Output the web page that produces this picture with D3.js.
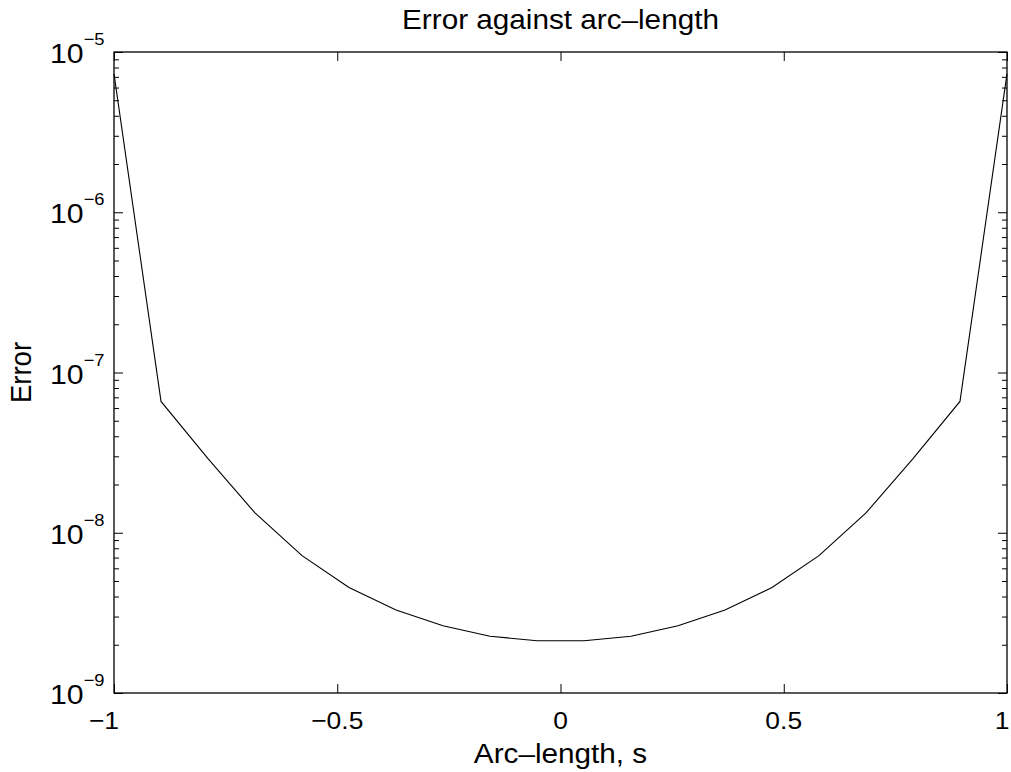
<!DOCTYPE html>
<html>
<head>
<meta charset="utf-8">
<script src="https://cdn.jsdelivr.net/npm/d3@7"></script>
<style>
  body { margin: 0; background: #fff; }
  svg { display: block; }
  text { font-family: "Liberation Sans", Arial, Helvetica, sans-serif; fill: #000; }
</style>
</head>
<body>
<div id="chart"></div>
<script>
// Data ----------------------------------------------------------------------->

// Arc-length samples (20 equally spaced points on [-1, 1])
const arc_length = [
  -1.0000, -0.8947, -0.7895, -0.6842, -0.5789, -0.4737, -0.3684, -0.2632,
  -0.1579, -0.0526, 0.0526, 0.1579, 0.2632, 0.3684, 0.4737, 0.5789,
  0.6842, 0.7895, 0.8947, 1.0000
];
// Error at each sample
const error_vals = [
  7.3e-6, 6.6e-8, 2.9e-8, 1.33e-8, 7.2e-9, 4.55e-9, 3.3e-9, 2.63e-9,
  2.26e-9, 2.12e-9, 2.12e-9, 2.26e-9, 2.63e-9, 3.3e-9, 4.55e-9, 7.2e-9,
  1.33e-8, 2.9e-8, 6.6e-8, 7.3e-6
];

const x_ticks = [-1, -0.5, 0, 0.5, 1];
const x_tick_labels = ['\u22121', '\u22120.5', '0', '0.5', '1'];
const y_ticks = [1e-9, 1e-8, 1e-7, 1e-6, 1e-5];
const y_exponents = ['\u22129', '\u22128', '\u22127', '\u22126', '\u22125'];

const title_text = 'Error against arc\u2013length';
const x_label = 'Arc\u2013length, s';
const y_label = 'Error';

// Setup ---------------------------------------------------------------------->

const width = 1011, height = 772;
const plot = {left: 114, right: 1007, top: 52, bottom: 693};
const stretch = 1.08;        // glyphs in the reference are a little wide
const tick_font = 24.5, label_font = 27.5;

const svg = d3.select('#chart')
  .append('svg')
    .attr('width', width)
    .attr('height', height);

const x = d3.scaleLinear().domain([-1, 1]).range([plot.left, plot.right]);
const y = d3.scaleLog().domain([1e-9, 1e-5]).range([plot.bottom, plot.top]);

// minor log ticks (2..9 in each decade)
const y_minor = y.ticks().filter(v => !y_ticks.some(t => Math.abs(v / t - 1) < 1e-6));

// Axes (ticks point inward, on all four sides) ------------------------------->

function tick_axis(axis, transform){
  const g = svg.append('g')
    .attr('transform', transform)
    .call(axis);
  g.select('.domain').remove();
  g.selectAll('line').attr('stroke', '#000').attr('stroke-width', 1);
  return g;
}

const plot_w = plot.right - plot.left, plot_h = plot.bottom - plot.top;

tick_axis(d3.axisBottom(x).tickValues(x_ticks).tickSize(-9).tickFormat(''),
  `translate(0,${plot.bottom})`);
tick_axis(d3.axisTop(x).tickValues(x_ticks).tickSize(-9).tickFormat(''),
  `translate(0,${plot.top})`);
tick_axis(d3.axisLeft(y).tickValues(y_ticks).tickSize(-9).tickFormat(''),
  `translate(${plot.left},0)`);
tick_axis(d3.axisRight(y).tickValues(y_ticks).tickSize(-9).tickFormat(''),
  `translate(${plot.right},0)`);
tick_axis(d3.axisLeft(y).tickValues(y_minor).tickSize(-5).tickFormat(''),
  `translate(${plot.left},0)`);
tick_axis(d3.axisRight(y).tickValues(y_minor).tickSize(-5).tickFormat(''),
  `translate(${plot.right},0)`);

// box
svg.append('rect')
  .attr('x', plot.left)
  .attr('y', plot.top)
  .attr('width', plot_w)
  .attr('height', plot_h)
  .attr('fill', 'none')
  .attr('stroke', '#000')
  .attr('stroke-width', 1.3);

// Data line ------------------------------------------------------------------>

const line = d3.line()
  .x((d, i) => x(arc_length[i]))
  .y(d => y(d));

svg.append('path')
  .datum(error_vals)
  .attr('d', line)
  .attr('fill', 'none')
  .attr('stroke', '#000')
  .attr('stroke-width', 1.1)
  .attr('stroke-linejoin', 'miter');

// Tick labels ---------------------------------------------------------------->

// the end labels sit a bit inside their ticks in the reference
const x_label_shift = [-10, 0, 0, 0, -5];

svg.append('g')
  .selectAll('text')
  .data(x_ticks)
  .join('text')
    .attr('transform', (d, i) =>
      `translate(${x(d) + x_label_shift[i]},728.5) scale(${stretch},1)`)
    .attr('text-anchor', 'middle')
    .style('font-size', tick_font + 'px')
    .text((d, i) => x_tick_labels[i]);

const y_lab = svg.append('g')
  .selectAll('text')
  .data(y_ticks)
  .join('text')
    .attr('transform', d => `translate(50,${y(d) + 11}) scale(${stretch},1)`);
y_lab.append('tspan')
  .style('font-size', '28px')
  .text('10');
y_lab.append('tspan')
  .attr('dy', -18)
  .style('font-size', '17px')
  .text((d, i) => y_exponents[i]);

// Title and axis labels ------------------------------------------------------>

svg.append('text')
  .attr('transform', `translate(${(plot.left + plot.right) / 2},28.5) scale(${stretch},1)`)
  .attr('text-anchor', 'middle')
  .style('font-size', label_font + 'px')
  .text(title_text);

svg.append('text')
  .attr('transform', `translate(${(plot.left + plot.right) / 2},762.5) scale(${stretch},1)`)
  .attr('text-anchor', 'middle')
  .style('font-size', label_font + 'px')
  .text(x_label);

svg.append('text')
  .attr('transform', `translate(31,${(plot.top + plot.bottom) / 2}) rotate(-90) scale(1,${stretch})`)
  .attr('text-anchor', 'middle')
  .style('font-size', label_font + 'px')
  .text(y_label);
</script>
</body>
</html>
